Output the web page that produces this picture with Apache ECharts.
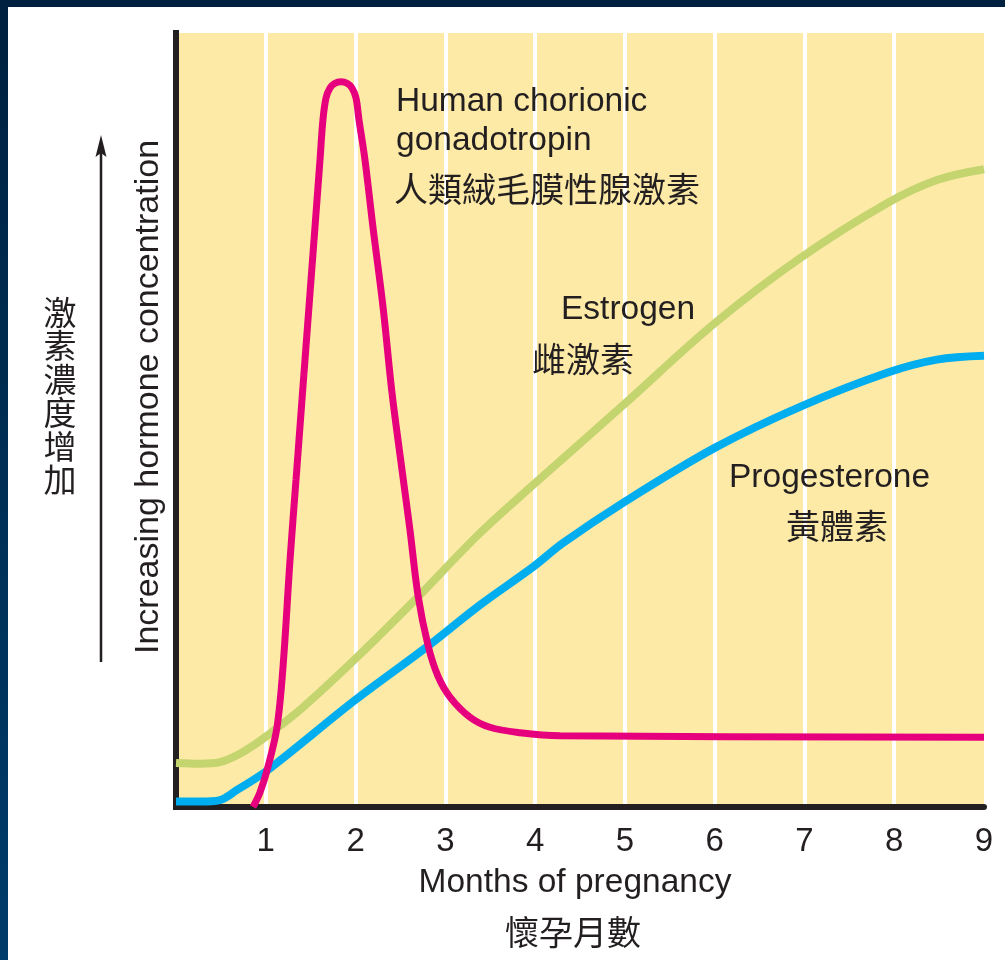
<!DOCTYPE html>
<html>
<head>
<meta charset="utf-8">
<script src="https://cdn.jsdelivr.net/npm/echarts@6/dist/echarts.min.js"></script>
<style>
html,body{margin:0;padding:0;background:#fff;}
#c{width:1005px;height:960px;}
</style>
</head>
<body>
<div id="c"></div>
<script>
// ---- data (x: months of pregnancy, y: relative hormone concentration 0-100) ----
const monthTicks = [1, 2, 3, 4, 5, 6, 7, 8, 9];

const estrogenMonths = [0, 0.267, 0.49, 0.713, 0.88, 1.025, 1.415, 1.994, 2.64, 3.386, 3.976, 4.979, 6.0, 6.95, 7.92, 8.476, 9.0];
const estrogenLevels = [5.7, 5.6, 5.8, 6.9, 8.1, 9.3, 12.9, 19.1, 26.5, 35.4, 41.6, 51.9, 62.5, 70.9, 78.0, 81.0, 82.4];

const progesteroneMonths = [0, 0.267, 0.49, 0.68, 1.025, 1.994, 2.796, 3.386, 3.976, 4.31, 4.979, 6.0, 6.95, 7.92, 8.476, 9.0];
const progesteroneLevels = [0.7, 0.7, 0.9, 2.2, 4.8, 13.8, 20.7, 26.1, 31.0, 34.1, 39.3, 46.4, 51.7, 56.1, 57.8, 58.3];

const hcgMonths = [0.858, 0.936, 1.025, 1.125, 1.192, 1.27, 1.337, 1.409, 1.481, 1.548, 1.604, 1.637, 1.671, 1.715, 1.771, 1.838, 1.905, 1.96, 2.005, 2.038, 2.105, 2.194, 2.306, 2.406, 2.495, 2.606, 2.695, 2.807, 2.918, 3.052, 3.275, 3.497, 3.832, 4.277, 9.0];
const hcgLevels = [0, 1.9, 5.2, 10.3, 18.1, 31.9, 42.3, 53.5, 64.6, 74.9, 83.6, 88.8, 91.6, 92.9, 93.5, 93.7, 93.5, 92.9, 91.6, 88.8, 83.6, 74.9, 64.6, 53.5, 45.5, 35.8, 27.4, 20.9, 16.9, 14.2, 11.6, 10.3, 9.6, 9.2, 9.0];

const zip = (xs, ys) => xs.map((x, i) => [x, ys[i]]);

const LATIN = '"Liberation Sans", Arial, Helvetica, sans-serif';
const CJK = '"Noto Sans CJK TC", "Noto Sans CJK SC", sans-serif';
const TXT = '#231f20';

const chart = echarts.init(document.getElementById('c'), null, {renderer: 'canvas'});

function label(text, x, y, font, size, align) {
  return {
    type: 'text', x: x, y: y, z: 100,
    style: {text: text, fill: TXT, font: size + 'px ' + font, align: align || 'left', verticalAlign: 'middle'}
  };
}

const option = {
  animation: false,
  backgroundColor: '#ffffff',
  grid: {left: 176, right: 21, top: 33, bottom: 153, show: true, backgroundColor: '#fdeaa7', borderWidth: 0},
  xAxis: {
    type: 'value', min: 0, max: 9, interval: 1,
    axisLine: {show: true, onZero: false, lineStyle: {color: TXT, width: 6}},
    axisTick: {show: false},
    splitLine: {show: true, showMinLine: false, showMaxLine: false, lineStyle: {color: '#ffffff', width: 4}},
    axisLabel: {
      show: true, margin: 18, color: TXT, fontSize: 33, fontFamily: LATIN,
      formatter: v => (monthTicks.indexOf(v) >= 0 ? String(v) : '')
    }
  },
  yAxis: {
    type: 'value', min: 0, max: 100,
    axisLine: {show: true, onZero: false, lineStyle: {color: TXT, width: 6, cap: 'square'}},
    axisTick: {show: false},
    splitLine: {show: false},
    axisLabel: {show: false}
  },
  series: [
    {
      name: 'Estrogen', type: 'line', data: zip(estrogenMonths, estrogenLevels),
      smooth: 0.35, symbol: 'none', z: 2,
      lineStyle: {color: '#c4d46e', width: 8, cap: 'butt'}
    },
    {
      name: 'Progesterone', type: 'line', data: zip(progesteroneMonths, progesteroneLevels),
      smooth: 0.35, symbol: 'none', z: 3,
      lineStyle: {color: '#00aeef', width: 8, cap: 'butt'}
    },
    {
      name: 'hCG', type: 'line', data: zip(hcgMonths, hcgLevels),
      smooth: 0.35, symbol: 'none', z: 4,
      lineStyle: {color: '#e6007e', width: 7, cap: 'butt'}
    }
  ],
  graphic: [
    // frame
    {type: 'rect', shape: {x: 0, y: 0, width: 1005, height: 7}, style: {fill: '#00213f'}, z: 200},
    {type: 'rect', shape: {x: 0, y: 0, width: 8, height: 960},
      style: {fill: new echarts.graphic.LinearGradient(0, 0, 0, 1, [{offset: 0, color: '#00213f'}, {offset: 1, color: '#003c6b'}])}, z: 200},
    // series labels
    label('Human chorionic', 396, 102, LATIN, 33.5),
    label('gonadotropin', 396, 141, LATIN, 33.5),
    label('人類絨毛膜性腺激素', 394, 189, CJK, 34),
    label('Estrogen', 561, 310, LATIN, 33.5),
    label('雌激素', 532, 359, CJK, 34),
    label('Progesterone', 729, 478, LATIN, 33.5),
    label('黃體素', 786, 526, CJK, 34),
    // x axis title
    label('Months of pregnancy', 575, 883, LATIN, 33.5, 'center'),
    label('懷孕月數', 573, 932, CJK, 34, 'center'),
    // y axis title
    {
      type: 'text', x: 149, y: 397, rotation: Math.PI / 2, z: 100,
      style: {text: 'Increasing hormone concentration', fill: TXT, font: '34px ' + LATIN, align: 'center', verticalAlign: 'middle'}
    },
    {
      type: 'text', x: 60, y: 396, z: 100,
      style: {text: '激\n素\n濃\n度\n增\n加', fill: TXT, font: '33px ' + CJK, lineHeight: 33.5, align: 'center', verticalAlign: 'middle'}
    },
    // arrow
    {type: 'line', shape: {x1: 101, y1: 662, x2: 101, y2: 150}, style: {stroke: TXT, lineWidth: 2.5}, z: 100},
    {type: 'polygon', shape: {points: [[101, 135], [95.5, 157], [101, 153], [106.5, 157]]}, style: {fill: TXT}, z: 100}
  ]
};
chart.setOption(option);
</script>
</body>
</html>
